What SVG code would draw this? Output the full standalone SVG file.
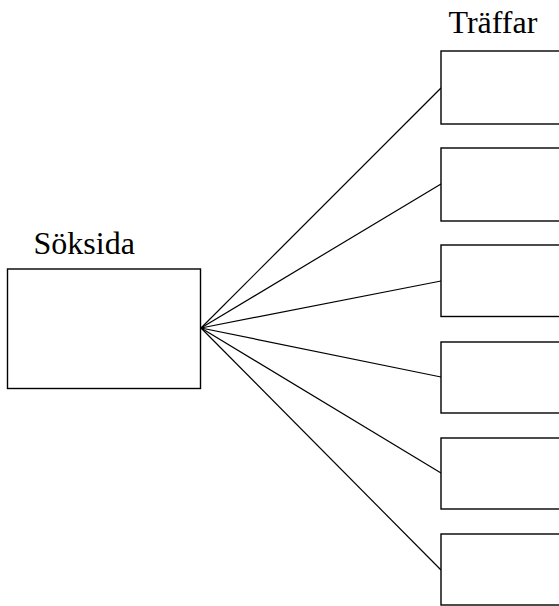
<svg xmlns="http://www.w3.org/2000/svg" width="559" height="606" viewBox="0 0 559 606">
<style>
.box{fill:#fff;stroke:#000;stroke-width:1.4}
.lbl{font-family:"Liberation Serif","Times New Roman",serif;font-size:32px;fill:#000}
.con line{stroke:#000;stroke-width:1.2}
</style>
<rect width="559" height="606" fill="#fff"/>
<g id="connectors" class="con">
<line x1="201" y1="328" x2="441" y2="88"/>
<line x1="201" y1="328" x2="441" y2="184"/>
<line x1="201" y1="328" x2="441" y2="281"/>
<line x1="201" y1="328" x2="441" y2="377"/>
<line x1="201" y1="328" x2="441" y2="473"/>
<line x1="201" y1="328" x2="441" y2="570"/>
</g>
<g id="soksida">
<rect class="box" x="7.5" y="269" width="193" height="119.5"/>
<text class="lbl" x="33.5" y="254">Söksida</text>
</g>
<text class="lbl" x="448.5" y="33">Träffar</text>
<g id="traff1"><rect class="box" x="441" y="51" width="125" height="73"/></g>
<g id="traff2"><rect class="box" x="441" y="148" width="125" height="73"/></g>
<g id="traff3"><rect class="box" x="441" y="245" width="125" height="71.5"/></g>
<g id="traff4"><rect class="box" x="441" y="342" width="125" height="71"/></g>
<g id="traff5"><rect class="box" x="441" y="438" width="125" height="71"/></g>
<g id="traff6"><rect class="box" x="441" y="534" width="125" height="71"/></g>
</svg>
